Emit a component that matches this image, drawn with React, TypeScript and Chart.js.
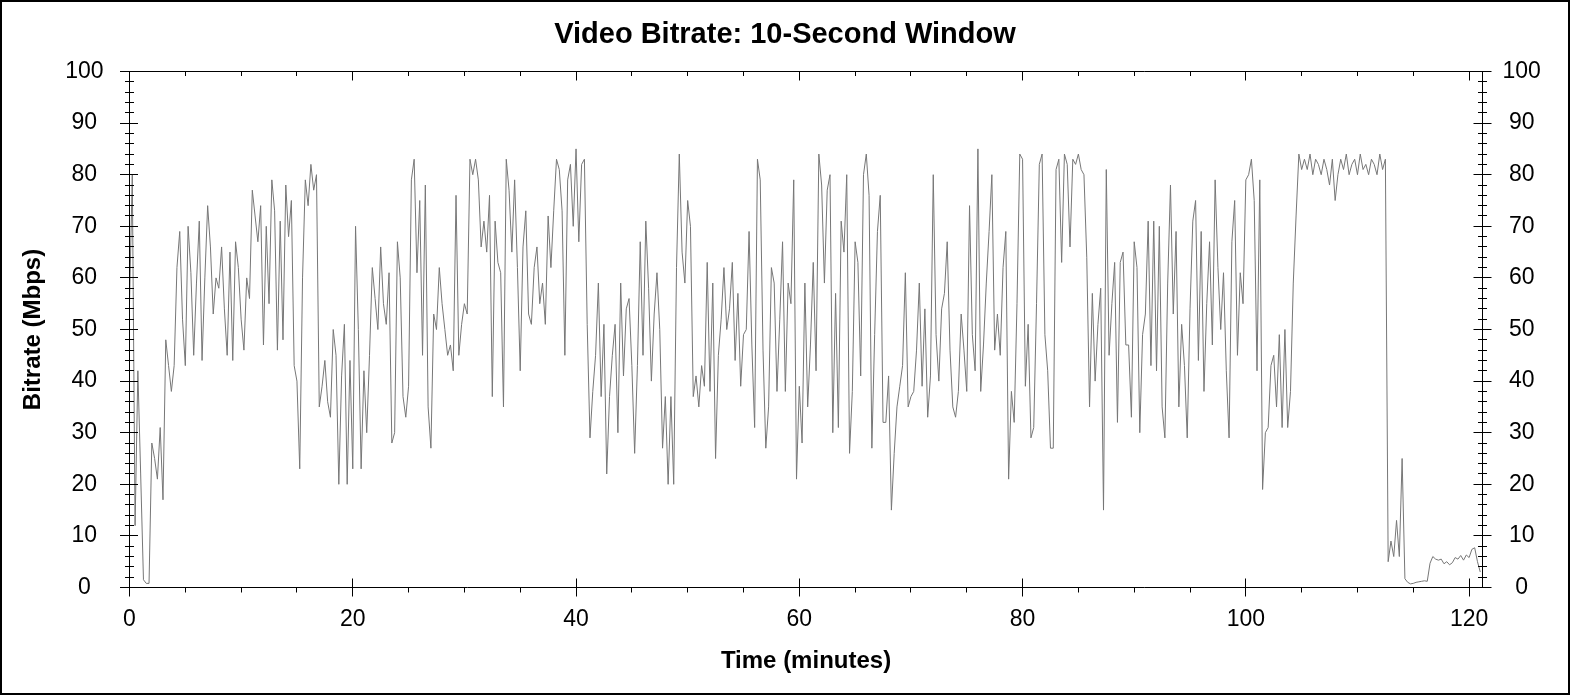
import React, { useEffect, useRef } from "react";
import { Chart, registerables } from "chart.js";

Chart.register(...registerables);

const TITLE = "Video Bitrate: 10-Second Window";
const X_TITLE = "Time (minutes)";
const Y_TITLE = "Bitrate (Mbps)";

const SAMPLE_STEP_MIN = 0.25;
const X_MAX = 121.2;
const X_TICKS = [0, 20, 40, 60, 80, 100, 120];
const Y_TICKS = [0, 10, 20, 30, 40, 50, 60, 70, 80, 90, 100];

// Bitrate (Mbps), one value every 0.25 min
const SEG_000_020 = [
  55, 80, 12, 42, 22, 1.5, 0.8, 0.8, 28, 25, 21, 31, 17, 48, 43, 38, 43, 62, 69, 52,
  43, 70, 61, 45, 59, 71, 44, 60, 74, 66, 53, 60, 58, 66, 54, 45, 65, 44, 67, 62,
  52, 46, 60, 56, 77, 72, 67, 74, 47, 70, 55, 79, 73, 46, 71, 48, 78, 68, 75, 43,
  40, 23, 60, 79, 74, 82, 77, 80, 35, 39, 44, 36, 33, 50, 45, 20, 41, 51, 20, 44,
];
const SEG_020_040 = [
  23, 70, 50, 23, 42, 30, 45, 62, 56, 50, 66, 55, 51, 61, 28, 30, 67, 60, 37, 33,
  39, 79, 83, 61, 75, 45, 78, 35, 27, 53, 50, 62, 55, 50, 45, 47, 42, 76, 45, 51,
  55, 53, 83, 80, 83, 79, 66, 71, 65, 76, 37, 71, 63, 61, 35, 83, 77, 65, 79, 62,
  42, 66, 73, 53, 51, 62, 66, 55, 59, 51, 72, 62, 73, 83, 81, 73, 45, 79, 82, 70,
];
const SEG_040_060 = [
  85, 67, 82, 83, 51, 29, 38, 45, 59, 37, 51, 22, 37, 45, 51, 30, 59, 41, 54, 56,
  43, 26, 43, 67, 45, 71, 58, 40, 53, 61, 50, 27, 37, 20, 37, 20, 62, 84, 65, 59,
  75, 70, 37, 41, 35, 43, 39, 63, 38, 59, 25, 45, 52, 62, 50, 54, 63, 44, 57, 39,
  49, 50, 69, 47, 31, 83, 79, 46, 27, 35, 62, 59, 38, 52, 67, 38, 59, 55, 79, 21,
];
const SEG_060_080 = [
  39, 28, 59, 35, 47, 63, 42, 84, 78, 59, 77, 80, 30, 57, 31, 71, 65, 80, 26, 38,
  67, 63, 41, 80, 84, 76, 27, 49, 69, 76, 32, 32, 41, 15, 26, 35, 39, 43, 61, 35,
  37, 38, 46, 59, 39, 54, 33, 41, 80, 49, 40, 54, 57, 67, 46, 35, 33, 38, 53, 46,
  38, 74, 49, 42, 85, 38, 47, 59, 69, 80, 46, 53, 45, 62, 69, 21, 38, 32, 55, 84,
];
const SEG_080_100 = [
  83, 39, 51, 29, 31, 55, 82, 84, 49, 42, 27, 27, 81, 83, 63, 84, 82, 66, 83, 82,
  84, 81, 80, 64, 35, 57, 40, 51, 58, 15, 81, 45, 55, 63, 32, 63, 65, 47, 47, 33,
  67, 62, 30, 49, 53, 71, 43, 71, 42, 70, 35, 29, 59, 78, 53, 69, 35, 51, 43, 29,
  54, 71, 75, 44, 69, 38, 55, 67, 47, 79, 62, 50, 61, 42, 29, 67, 75, 45, 61, 55,
];
const SEG_100_121 = [
  79, 80, 83, 75, 42, 79, 19, 30, 31, 43, 45, 35, 49, 31, 50, 31, 38, 59, 72, 84,
  81, 83, 81, 84, 80, 83, 82, 80, 83, 81, 78, 83, 75, 80, 83, 81, 84, 80, 82, 83,
  80, 84, 81, 82, 80, 83, 82, 80, 84, 81, 83, 5, 9, 6, 13, 6, 25, 1.7, 1, 0.7,
  0.8, 1, 1.1, 1.2, 1.3, 1.2, 4.7, 6, 5.5, 5.3, 5.5, 4.6, 5, 4.4, 4.8, 5.8, 5.5, 6.2, 5.3, 6.3,
  5.8, 7.4, 7.7, 5, 3,
];

const BITRATE = [
  ...SEG_000_020,
  ...SEG_020_040,
  ...SEG_040_060,
  ...SEG_060_080,
  ...SEG_080_100,
  ...SEG_100_121,
];

const FONT = "'Liberation Sans', Arial, sans-serif";

const framePlugin = {
  id: "frameTicks",
  beforeDraw(chart: any) {
    const ctx = chart.ctx;
    ctx.save();
    ctx.fillStyle = "#ffffff";
    ctx.fillRect(0, 0, chart.width, chart.height);
    ctx.restore();
  },
  afterDraw(chart: any) {
    const ctx = chart.ctx;
    const a = chart.chartArea;
    const xs = chart.scales.x;
    const ys = chart.scales.y;
    const px = (v: number) => Math.floor(v) + 0.5;
    ctx.save();
    ctx.strokeStyle = "#000000";
    ctx.lineWidth = 1;
    ctx.beginPath();
    const L = px(a.left);
    const R = px(a.right);
    const T = px(a.top);
    const B = px(a.bottom);
    ctx.rect(L, T, R - L, B - T);
    // y ticks (both sides)
    for (let v = 0; v <= 100; v += 2) {
      const y = px(ys.getPixelForValue(v));
      const major = v % 10 === 0;
      if (major) {
        ctx.moveTo(L - 9.5, y);
        ctx.lineTo(L + 8.5, y);
        ctx.moveTo(R - 9, y);
        ctx.lineTo(R + 9, y);
      } else {
        ctx.moveTo(L - 4.5, y);
        ctx.lineTo(L + 4.5, y);
        ctx.moveTo(R - 4.5, y);
        ctx.lineTo(R + 4.5, y);
      }
    }
    // x ticks (bottom and top)
    for (let v = 0; v <= X_MAX; v += 5) {
      const x = px(xs.getPixelForValue(v));
      const major = v % 20 === 0;
      if (major) {
        ctx.moveTo(x, B - 9);
        ctx.lineTo(x, B + 9);
        ctx.moveTo(x, T);
        ctx.lineTo(x, T + 9);
      } else {
        ctx.moveTo(x, B);
        ctx.lineTo(x, B + 5);
        ctx.moveTo(x, T);
        ctx.lineTo(x, T + 4.5);
      }
    }
    ctx.stroke();
    // outer border
    ctx.lineWidth = 2;
    ctx.strokeRect(1, 1, chart.width - 2, chart.height - 2);
    ctx.restore();
  },
};

export default function App() {
  const canvasRef = useRef<HTMLCanvasElement | null>(null);

  useEffect(() => {
    document.body.style.margin = "0";
    const canvas = canvasRef.current;
    if (!canvas) return;
    const points = BITRATE.map((v, i) => ({ x: i * SAMPLE_STEP_MIN, y: v }));
    const tickFont = { family: FONT, size: 23 };
    const chart = new Chart(canvas, {
      type: "line",
      data: {
        datasets: [
          {
            data: points,
            borderColor: "#777777",
            borderWidth: 1,
            pointRadius: 0,
            tension: 0,
            fill: false,
            yAxisID: "y",
            xAxisID: "x",
          },
        ],
      },
      options: {
        animation: false,
        responsive: false,
        devicePixelRatio: 1,
        layout: { padding: 0 },
        plugins: {
          legend: { display: false },
          tooltip: { enabled: false },
          title: {
            display: true,
            text: TITLE,
            color: "#000000",
            font: { family: FONT, size: 29, weight: "bold", lineHeight: 1.2 },
            padding: { top: 18, bottom: 18.7 },
          },
        },
        scales: {
          x: {
            type: "linear",
            position: "bottom",
            min: 0,
            max: X_MAX,
            afterBuildTicks: (s: any) => {
              s.ticks = X_TICKS.map((v) => ({ value: v }));
            },
            afterFit: (s: any) => {
              s.height = 107.5;
            },
            grid: { display: false, drawTicks: false },
            border: { display: false },
            ticks: {
              color: "#000000",
              font: tickFont,
              padding: 18,
              maxRotation: 0,
              autoSkip: false,
            },
            title: {
              display: true,
              text: X_TITLE,
              color: "#000000",
              font: { family: FONT, size: 24, weight: "bold", lineHeight: 1.2 },
              padding: { top: 0, bottom: 19 },
            },
          },
          y: {
            type: "linear",
            position: "left",
            min: 0,
            max: 100,
            afterBuildTicks: (s: any) => {
              s.ticks = Y_TICKS.map((v) => ({ value: v }));
            },
            afterFit: (s: any) => {
              s.width = 129.5;
            },
            grid: { display: false, drawTicks: false },
            border: { display: false },
            ticks: {
              color: "#000000",
              font: tickFont,
              padding: 26,
              crossAlign: "center",
              autoSkip: false,
            },
            title: {
              display: true,
              text: Y_TITLE,
              color: "#000000",
              font: { family: FONT, size: 24, weight: "bold", lineHeight: 1.2 },
              padding: { top: 18.5, bottom: 0 },
            },
          },
          y2: {
            type: "linear",
            position: "right",
            min: 0,
            max: 100,
            afterBuildTicks: (s: any) => {
              s.ticks = Y_TICKS.map((v) => ({ value: v }));
            },
            afterFit: (s: any) => {
              s.width = 87.5;
            },
            grid: { display: false, drawTicks: false },
            border: { display: false },
            ticks: {
              color: "#000000",
              font: tickFont,
              padding: 20,
              crossAlign: "center",
              autoSkip: false,
            },
          },
        },
      },
      plugins: [framePlugin],
    } as any);
    return () => chart.destroy();
  }, []);

  return (
    <div style={{ width: 1570, height: 695, overflow: "hidden" }}>
      <style>{"body{margin:0}"}</style>
      <canvas ref={canvasRef} width={1570} height={695} style={{ display: "block" }} />
    </div>
  );
}
